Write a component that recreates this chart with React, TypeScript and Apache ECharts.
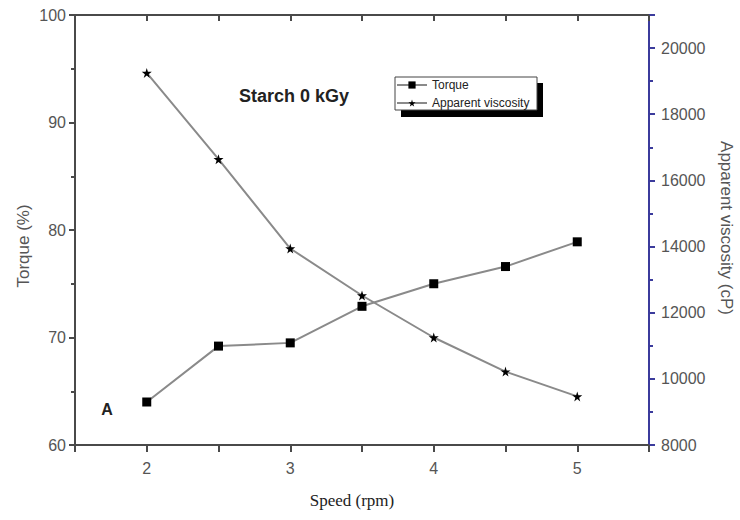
import React, { useEffect, useRef } from "react";
import * as echarts from "echarts";

const speeds = [2, 2.5, 3, 3.5, 4, 4.5, 5];
const torque = [64.0, 69.2, 69.5, 72.9, 75.0, 76.6, 78.9];
const viscosity = [19250, 16640, 13940, 12520, 11250, 10220, 9470];
const seriesNames = ["Torque", "Apparent viscosity"];
const titleText = "Starch 0 kGy";
const panelLabel = "A";
const xName = "Speed (rpm)";
const yLeftName = "Torque (%)";
const yRightName = "Apparent viscosity (cP)";

const STAR =
  "path://M50,0 L61,35 L98,35 L68,57 L79,91 L50,70 L21,91 L32,57 L2,35 L39,35 Z";

const SANS = "'Liberation Sans', Arial, sans-serif";
const SERIF = "'Liberation Serif', 'Times New Roman', serif";

export default function App() {
  const ref = useRef<HTMLDivElement>(null);
  useEffect(() => {
    document.body.style.margin = "0";
    if (!ref.current) return;
    const chart = echarts.init(ref.current, null, { renderer: "svg" });
    const xCommon = {
      type: "value",
      min: 1.5,
      max: 5.5,
      interval: 0.5,
      splitLine: { show: false },
    };
    chart.setOption({
      animation: false,
      backgroundColor: "#ffffff",
      grid: { left: 75, right: 91, top: 15, bottom: 75 },
      xAxis: [
        {
          ...xCommon,
          position: "bottom",
          axisLine: { lineStyle: { color: "#4a4a4a", width: 2 } },
          axisTick: { inside: false, length: 7, lineStyle: { color: "#4a4a4a", width: 2 } },
          axisLabel: {
            margin: 15,
            color: "#555",
            fontFamily: SANS,
            fontSize: 16,
            formatter: (v: number) => (Number.isInteger(v) ? String(v) : ""),
          },
        },
        {
          ...xCommon,
          position: "top",
          axisLine: { lineStyle: { color: "#4a4a4a", width: 2 } },
          axisTick: { inside: true, length: 6, lineStyle: { color: "#4a4a4a", width: 2 } },
          axisLabel: { show: false },
        },
      ],
      yAxis: [
        {
          type: "value",
          min: 60,
          max: 100,
          interval: 10,
          position: "left",
          splitLine: { show: false },
          axisLine: { show: true, lineStyle: { color: "#4a4a4a", width: 2 } },
          axisTick: { show: true, length: 6, lineStyle: { color: "#4a4a4a", width: 2 } },
          minorTick: { show: true, splitNumber: 2, length: 4, lineStyle: { color: "#4a4a4a", width: 2 } },
          axisLabel: { margin: 9, color: "#555", fontFamily: SANS, fontSize: 16 },
        },
        {
          type: "value",
          min: 8000,
          max: 21000,
          interval: 2000,
          position: "right",
          splitLine: { show: false },
          axisLine: { show: true, lineStyle: { color: "#3b3b9c", width: 2 } },
          axisTick: { show: true, length: 6, lineStyle: { color: "#3b3b9c", width: 2 } },
          minorTick: { show: true, splitNumber: 2, length: 4, lineStyle: { color: "#3b3b9c", width: 2 } },
          axisLabel: {
            margin: 12,
            color: "#555",
            fontFamily: SANS,
            fontSize: 16,
            formatter: (v: number) => (v % 2000 === 0 ? String(v) : ""),
          },
        },
      ],
      legend: {
        data: seriesNames,
        orient: "vertical",
        left: 396,
        top: 79,
        padding: 0,
        itemWidth: 30,
        itemHeight: 9,
        itemGap: 6,
        textStyle: { fontFamily: SANS, fontSize: 12, color: "#222" },
        z: 10,
      },
      graphic: [
        { type: "rect", z: 5, shape: { x: 401, y: 83, width: 142, height: 34 }, style: { fill: "#000" } },
        {
          type: "rect",
          z: 6,
          shape: { x: 395, y: 77, width: 142, height: 33 },
          style: { fill: "#fff", stroke: "#444", lineWidth: 1 },
        },
        {
          type: "text",
          x: 239,
          y: 96,
          style: {
            text: titleText,
            font: `bold 18px ${SANS}`,
            fill: "#222",
            textAlign: "left",
            textVerticalAlign: "middle",
          },
        },
        {
          type: "text",
          x: 107,
          y: 409,
          style: {
            text: panelLabel,
            font: `bold 16px ${SANS}`,
            fill: "#222",
            textAlign: "center",
            textVerticalAlign: "middle",
          },
        },
        {
          type: "text",
          x: 352,
          y: 500,
          style: {
            text: xName,
            font: `17px ${SERIF}`,
            fill: "#222",
            textAlign: "center",
            textVerticalAlign: "middle",
          },
        },
        {
          type: "text",
          x: 23,
          y: 246,
          rotation: Math.PI / 2,
          style: {
            text: yLeftName,
            font: `17px ${SANS}`,
            fill: "#555",
            textAlign: "center",
            textVerticalAlign: "middle",
          },
        },
        {
          type: "text",
          x: 726,
          y: 228,
          rotation: -Math.PI / 2,
          style: {
            text: yRightName,
            font: `17px ${SANS}`,
            fill: "#555",
            textAlign: "center",
            textVerticalAlign: "middle",
          },
        },
      ],
      series: [
        {
          name: seriesNames[0],
          type: "line",
          xAxisIndex: 0,
          yAxisIndex: 0,
          data: speeds.map((s, i) => [s, torque[i]]),
          symbol: "rect",
          symbolSize: 9,
          itemStyle: { color: "#000" },
          lineStyle: { color: "#8a8a8a", width: 2 },
        },
        {
          name: seriesNames[1],
          type: "line",
          xAxisIndex: 0,
          yAxisIndex: 1,
          data: speeds.map((s, i) => [s, viscosity[i]]),
          symbol: STAR,
          symbolSize: 10,
          itemStyle: { color: "#000" },
          lineStyle: { color: "#8a8a8a", width: 2 },
        },
      ],
    });
    return () => chart.dispose();
  }, []);
  return <div ref={ref} style={{ width: 740, height: 520 }} />;
}
